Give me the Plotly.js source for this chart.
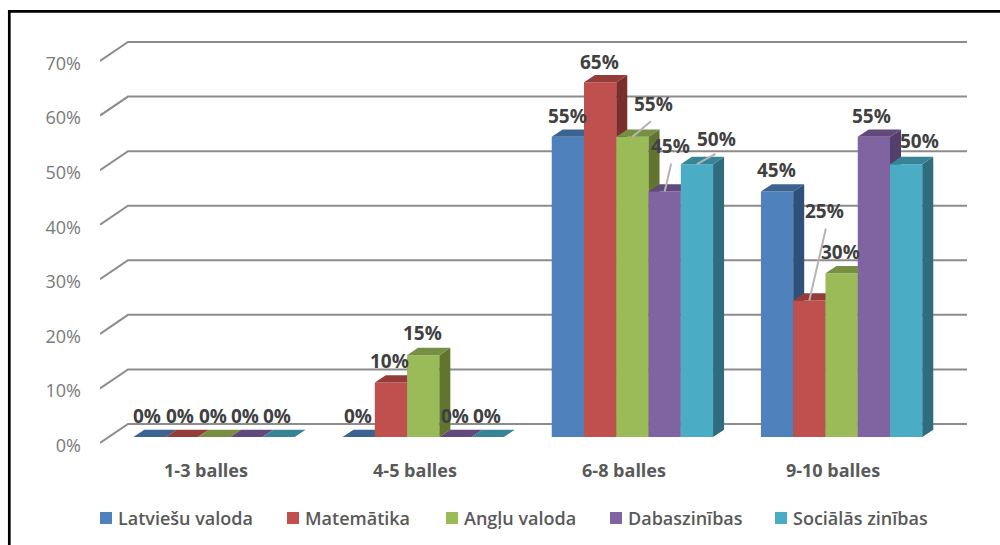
<!DOCTYPE html>
<html><head><meta charset="utf-8">
<script src="https://cdn.plot.ly/plotly-3.0.1.min.js"></script>
<style>html,body{margin:0;padding:0;background:#fff}</style>
</head><body><div id="chart" style="width:1000px;height:545px"></div>
<script>
const categories = ['1-3 balles','4-5 balles','6-8 balles','9-10 balles'];
const latviesu = [0,0,55,45];
const matematika = [0,10,65,25];
const anglu = [0,15,55,30];
const dabaszinibas = [0,0,45,55];
const socialas = [0,0,50,50];
const seriesNames = ['Latviešu valoda','Matemātika','Angļu valoda','Dabaszinības','Sociālās zinības'];
const seriesValues = [latviesu,matematika,anglu,dabaszinibas,socialas];
const yTicks = [0,10,20,30,40,50,60,70];

const frontCol = ['#4F81BD','#C0504D','#9BBB59','#8064A2','#4BACC6'];
const topCol   = ['#3B6290','#933C3A','#768F43','#61497C','#378497'];
const sideCol  = ['#2F5179','#7A2E2C','#62752F','#533F6C','#2F6C7D'];

// pixel geometry of the picture
const PX = {l:100,r:967,t:30,b:450};
const pxPerPct = 5.457, pxPerCat = 209.2, barPx = 32.27;
const depthX = 11/pxPerCat, depthY = 7.3/pxPerPct;
const barW = barPx/pxPerCat;
const gridDx = 28/209.0, gridDy = 19/pxPerPct;
const tickDrop = 2.5/pxPerPct; // the tick labels sit a little below the front of the gridlines
const labelLift = 1.5;

// label offsets from each bar's top centre [dx, dy up] in px, one row per series
const shifts = [
 [[-2,20],[-1,20],[-.5,19],[-.5,19.7]],
 [[-1.7,20],[-1,20.4],[-1,19],[15.5,88.3]],
 [[-1.5,20],[-.5,21],[21,31],[-1,20]],
 [[-1.3,20],[-.5,20],[6,44.4],[-2,19]],
 [[-1.1,20],[-.5,20],[20,24],[13,21.5]]
];
// leader lines: series, category, tail offset px
const leaders = [[2,2,20,-17],[3,2,7,-30],[4,2,20,-11],[1,3,17,-74]];
// left edge of each legend entry, as a fraction of the page width
const legendLeft = [0.078,0.265,0.424,0.588,0.753];

const traces = [];
// base subplot: front-plane axis, gridlines with their depth bend
const xBaseRange = [(PX.l-206)/209,(PX.r-206)/209];
const yBaseRange = [(445.5-PX.b)/pxPerPct,(445.5-PX.t)/pxPerPct];
yTicks.forEach(v=>{
  traces.push({type:'scatter',mode:'lines',x:[xBaseRange[0],xBaseRange[0]+gridDx,xBaseRange[1]],
    y:[v+tickDrop,v+tickDrop+gridDy,v+tickDrop+gridDy],line:{color:'#8C8C8C',width:2},showlegend:false,hoverinfo:'skip',xaxis:'x',yaxis:'y'});
});
const xRange = [(PX.l-214)/pxPerCat,(PX.r-214)/pxPerCat];
const yRange = [(437-PX.b)/pxPerPct,(437-PX.t)/pxPerPct];
const layoutAxes = {};
seriesNames.forEach((name,s)=>{
  const n = s+2, xa='x'+n, ya='y'+n;
  layoutAxes['xaxis'+n]={overlaying:'x',range:xRange,visible:false,fixedrange:true};
  layoutAxes['yaxis'+n]={overlaying:'y',range:yRange,visible:false,fixedrange:true};
  layoutAxes[s===0?'legend':'legend'+(s+1)]={orientation:'h',xref:'container',yref:'container',x:legendLeft[s],xanchor:'left',y:0.083,yanchor:'top',
    font:{family:'Open Sans',size:18,color:'#595959',weight:600},bgcolor:'rgba(0,0,0,0)'};
  const xs = categories.map((c,g)=>g+(s-2)*barW);
  traces.push({type:'bar',name:name,x:xs,y:seriesValues[s],width:barW,marker:{color:frontCol[s]},xaxis:xa,yaxis:ya,hoverinfo:'skip',
    showlegend:true,legend:s===0?'legend':'legend'+(s+1)});
  xs.forEach((x0,g)=>{
    const v=seriesValues[s][g], L=x0-barW/2, R=x0+barW/2;
    if(v>0) traces.push({type:'scatter',mode:'lines',x:[R,R+depthX,R+depthX,R,R],y:[0,depthY,v+depthY,v,0],
      fill:'toself',fillcolor:sideCol[s],line:{width:0,color:sideCol[s]},showlegend:false,hoverinfo:'skip',xaxis:xa,yaxis:ya});
    traces.push({type:'scatter',mode:'lines',x:[L,R,R+depthX,L+depthX,L],y:[v,v,v+depthY,v+depthY,v],
      fill:'toself',fillcolor:topCol[s],line:{width:0,color:topCol[s]},showlegend:false,hoverinfo:'skip',xaxis:xa,yaxis:ya});
  });
});

const annotations = [];
seriesNames.forEach((name,s)=>{
  categories.forEach((c,g)=>{
    const v=seriesValues[s][g];
    annotations.push({xref:'x2',yref:'y2',x:g+(s-2)*barW,y:v,text:v+'%',showarrow:false,xanchor:'center',yanchor:'middle',
      xshift:shifts[s][g][0],yshift:shifts[s][g][1]+labelLift,font:{family:'Open Sans',size:19,color:'#404040',weight:700}});
  });
});
leaders.forEach(([s,g,ax,ay])=>{
  annotations.push({xref:'x2',yref:'y2',x:g+(s-2)*barW,y:seriesValues[s][g],text:' ',showarrow:true,arrowhead:0,arrowwidth:2,arrowcolor:'#B4B4B4',standoff:0,ax:ax,ay:ay,font:{size:1}});
});

const frameX = p=>(p-PX.l)/(PX.r-PX.l), frameY = p=>(PX.b-p)/(PX.b-PX.t);
const layout = Object.assign({
  width:1000,height:545,
  margin:{l:PX.l,r:1000-PX.r,t:PX.t,b:545-PX.b,pad:0},
  paper_bgcolor:'#fff',plot_bgcolor:'rgba(0,0,0,0)',
  barmode:'overlay',
  showlegend:true,
  xaxis:{range:xBaseRange,tickmode:'array',tickvals:categories.map((c,i)=>i),ticktext:categories,showgrid:false,zeroline:false,showline:false,ticks:'',ticklabelstandoff:8,tickfont:{family:'Open Sans',size:18,color:'#595959',weight:700},fixedrange:true},
  yaxis:{range:yBaseRange,tickmode:'array',tickvals:yTicks,ticktext:yTicks.map(v=>v+'%'),showgrid:false,zeroline:false,showline:false,ticks:'',ticklabelstandoff:18,tickfont:{family:'Open Sans',size:18,color:'#7A7A7A'},fixedrange:true},
  annotations:annotations,
  shapes:[{type:'path',xref:'paper',yref:'paper',path:`M ${frameX(9.3)},${frameY(560)} L ${frameX(9.3)},${frameY(11.3)} L ${frameX(1010)},${frameY(11.3)}`,line:{color:'#000',width:2.7},layer:'below'}]
},layoutAxes);
Plotly.newPlot('chart',traces,layout,{displayModeBar:false,staticPlot:true}).then(gd=>{
  // the swatches sit closer to their text in the reference
  gd.querySelectorAll('.legendsymbols').forEach(g=>g.setAttribute('transform','translate(8,0)'));
});
</script></body></html>
